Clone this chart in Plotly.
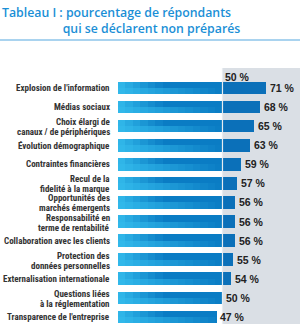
import plotly.graph_objects as go

categories = [
    "Explosion de l'information",
    "Médias sociaux",
    "Choix élargi de<br>canaux / de périphériques",
    "Évolution démographique",
    "Contraintes financières",
    "Recul de la<br>fidelité à la marque",
    "Opportunités des<br>marchés émergents",
    "Responsabilité en<br>terme de rentabilité",
    "Collaboration avec les clients",
    "Protection des<br>données personnelles",
    "Externalisation internationale",
    "Questions liées<br>à la réglementation",
    "Transparence de l'entreprise",
]
values = [71, 68, 65, 63, 59, 57, 56, 56, 56, 55, 54, 50, 47]
threshold = 50
title_lines = ["Tableau I : pourcentage de répondants", "qui se déclarent non préparés"]

LABEL_FONT = "Liberation Sans Narrow, Roboto Condensed, DejaVu Sans Condensed, Arial Narrow, sans-serif"
NUM_FONT = "Liberation Sans, Arial, sans-serif"
TITLE_FONT = "Open Sans, sans-serif"

def lerp(c1, c2, t):
    a = [int(c1[i:i + 2], 16) for i in (1, 3, 5)]
    b = [int(c2[i:i + 2], 16) for i in (1, 3, 5)]
    return "#" + "".join(f"{round(a[k] + (b[k] - a[k]) * t):02x}" for k in range(3))

fig = go.Figure()
idx = list(range(len(categories)))
BAR_H = 0.66
N = 14
step = threshold / N
light = "#33bbec"
mid = "#0a7cc4"
dark = "#0b70b9"
# two half-height gradient layers (top darkens sooner: diagonal effect)
for offset, t_end in [(-BAR_H / 2, 0.45), (0.0, 1.0)]:
    for k in range(N):
        b0 = k * step
        seg = [max(0.0, min(step, v - b0)) for v in values]
        t = min(1.0, (k + 0.5) / N / t_end)
        col = lerp(light, mid, t ** 0.9)
        fig.add_trace(go.Bar(
            y=idx, x=seg, base=[b0] * len(values), orientation="h",
            width=BAR_H / 2, offset=offset,
            marker=dict(color=col, line=dict(width=0)),
            hoverinfo="skip", showlegend=False,
        ))
# portion beyond threshold
fig.add_trace(go.Bar(
    y=idx, x=[max(0, v - threshold) for v in values], base=[threshold] * len(values),
    orientation="h", width=BAR_H, marker=dict(color=dark, line=dict(width=0)),
    hoverinfo="skip", showlegend=False,
))

# value labels
for i, v in zip(idx, values):
    fig.add_annotation(x=v, y=i, xref="x", yref="y", text=f"{v} %", showarrow=False,
                       xanchor="left", yanchor="middle", xshift=2,
                       font=dict(family=NUM_FONT, size=10.5, color="#222222", weight="bold"))

# category labels (right-aligned, tight line spacing)
LINE_PX = 10
for i, cat in zip(idx, categories):
    lines = cat.split("<br>")
    n = len(lines)
    for j, ln in enumerate(lines):
        fig.add_annotation(x=0, y=i, xref="x", yref="y", text=ln, showarrow=False,
                           xanchor="right", yanchor="middle", xshift=-6,
                           yshift=((n - 1) / 2 - j) * LINE_PX - (1 if n > 1 else 0),
                           font=dict(family=LABEL_FONT, size=9, color="#333333", weight="bold"))

fig.add_shape(type="rect", xref="x", yref="paper", x0=threshold, x1=90, y0=0, y1=1,
              fillcolor="#dadfe5", line=dict(width=0), layer="below")
fig.add_shape(type="line", xref="x", yref="paper", x0=threshold, x1=threshold, y0=0, y1=1,
              line=dict(color="#e8ecf0", width=1.2), layer="above")
fig.add_annotation(x=threshold, y=1, xref="x", yref="paper", text=f"{threshold} %",
                   showarrow=False, xanchor="left", yanchor="top", xshift=1, yshift=-1,
                   font=dict(family=NUM_FONT, size=10.5, color="#222222", weight="bold"))
# title (single text block, second line indented)
indent = "&nbsp;" * 19
fig.add_annotation(xref="paper", yref="paper", x=-118 / 182, y=1 + 48 / 256,
                   text=title_lines[0] + "<br>" + indent + title_lines[1],
                   showarrow=False, xanchor="left", yanchor="middle", align="left",
                   font=dict(family=TITLE_FONT, size=12.3, color="#1a8fd6", weight=600))
fig.add_shape(type="line", xref="paper", yref="paper", x0=-118 / 182, x1=1,
              y0=1 + 28 / 256, y1=1 + 28 / 256, line=dict(color="#a9d3ef", width=2))

fig.update_layout(
    width=300, height=329,
    margin=dict(l=118, r=0, t=68, b=5),
    paper_bgcolor="white", plot_bgcolor="white",
    barmode="overlay", bargap=0,
    xaxis=dict(range=[0, 87.1], visible=False, fixedrange=True),
    yaxis=dict(range=[12.37, -1.05], visible=False, fixedrange=True),
)
fig.write_html("out.html")
